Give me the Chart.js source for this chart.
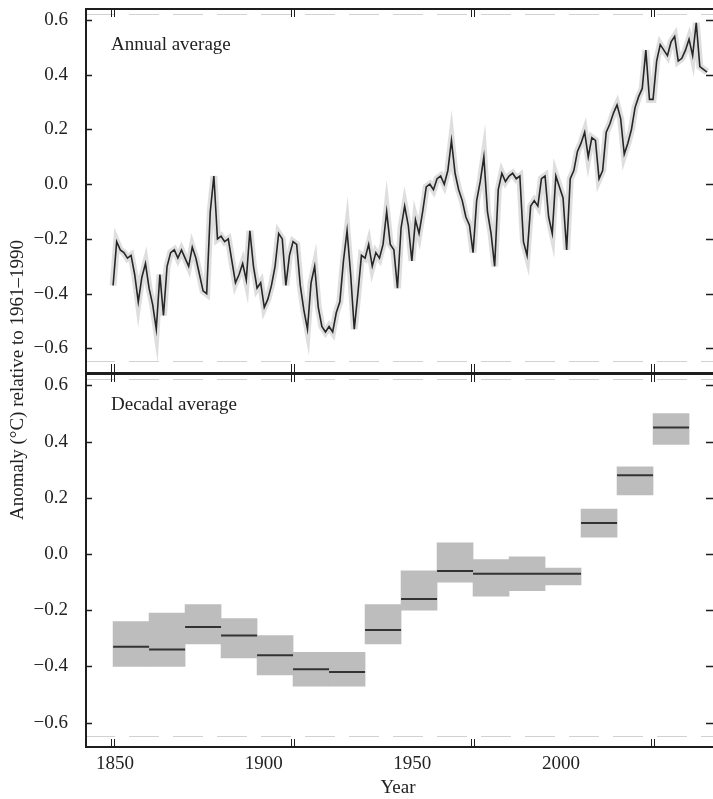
<!DOCTYPE html>
<html>
<head>
<meta charset="utf-8">
<script src="https://cdn.jsdelivr.net/npm/chart.js@4.4.1/dist/chart.umd.min.js"></script>
<style>
    body { margin: 0; background: #fff; }
    #wrap { position: relative; width: 713px; height: 799px; overflow: hidden;
            font-family: "Liberation Serif", "DejaVu Serif", serif; color: #222; }
    canvas { position: absolute; left: 0; }
    #top { top: 0; }
    #bottom { top: 373px; }
    .panel { position: absolute; left: 111px; font-size: 19px; line-height: 19px; white-space: nowrap; }
    #ytitle { position: absolute; left: -183px; top: 370px; width: 400px; height: 20px; line-height: 20px;
              font-size: 19px; text-align: center; white-space: nowrap; transform: rotate(-90deg); }
</style>
</head>
<body>
<div id="wrap">
    <canvas id="top" width="713" height="373"></canvas>
    <canvas id="bottom" width="713" height="426"></canvas>
    <div class="panel" style="top: 34px">Annual average</div>
    <div class="panel" style="top: 394px">Decadal average</div>
    <div id="ytitle">Anomaly (°C) relative to 1961–1990</div>
</div>
<script>
// annual anomalies, one per year from firstYear
const firstYear = 1850;
const annual = [
    -0.37, -0.21, -0.24, -0.25, -0.27, -0.26, -0.33, -0.43, -0.34, -0.29,
    -0.38, -0.44, -0.53, -0.33, -0.48, -0.30, -0.25, -0.24, -0.27, -0.24,
    -0.27, -0.30, -0.23, -0.27, -0.33, -0.39, -0.40, -0.10, 0.03, -0.20,
    -0.19, -0.21, -0.20, -0.28, -0.36, -0.33, -0.29, -0.35, -0.17, -0.30,
    -0.38, -0.36, -0.45, -0.42, -0.37, -0.30, -0.18, -0.20, -0.37, -0.26,
    -0.21, -0.22, -0.37, -0.46, -0.53, -0.36, -0.30, -0.45, -0.52, -0.54,
    -0.52, -0.54, -0.47, -0.43, -0.28, -0.17, -0.33, -0.53, -0.40, -0.26,
    -0.27, -0.22, -0.30, -0.25, -0.27, -0.22, -0.10, -0.22, -0.24, -0.38,
    -0.16, -0.08, -0.15, -0.28, -0.13, -0.18, -0.10, -0.01, 0.00, -0.02,
    0.02, 0.03, 0.00, 0.05, 0.16, 0.04, -0.02, -0.06, -0.12, -0.15,
    -0.25, -0.06, 0.01, 0.10, -0.10, -0.18, -0.30, -0.02, 0.04, 0.01,
    0.03, 0.04, 0.02, 0.03, -0.21, -0.26, -0.08, -0.06, -0.08, 0.02,
    0.03, -0.12, -0.18, 0.03, -0.01, -0.05, -0.24, 0.02, 0.05, 0.12,
    0.15, 0.19, 0.10, 0.17, 0.16, 0.02, 0.05, 0.19, 0.22, 0.26,
    0.29, 0.24, 0.11, 0.15, 0.20, 0.28, 0.32, 0.35, 0.49, 0.31,
    0.31, 0.45, 0.51, 0.49, 0.47, 0.52, 0.54, 0.45, 0.46, 0.49,
    0.53, 0.47, 0.59, 0.43, 0.42, 0.41,
];

const decades = [1850, 1860, 1870, 1880, 1890, 1900, 1910, 1920, 1930, 1940, 1950, 1960, 1970, 1980, 1990, 2000];
const decadeMean = [-0.33, -0.34, -0.26, -0.29, -0.36, -0.41, -0.42, -0.27, -0.16, -0.06, -0.07, -0.07, -0.07, 0.11, 0.28, 0.45];
const decadeLow  = [-0.40, -0.40, -0.32, -0.37, -0.43, -0.47, -0.47, -0.32, -0.20, -0.10, -0.15, -0.13, -0.11, 0.06, 0.21, 0.39];
const decadeHigh = [-0.24, -0.21, -0.18, -0.23, -0.29, -0.35, -0.35, -0.18, -0.06, 0.04, -0.02, -0.01, -0.05, 0.16, 0.31, 0.50];

const yTicks = [-0.6, -0.4, -0.2, 0, 0.2, 0.4, 0.6];
const yearTicks = [1850, 1900, 1950, 2000];
const labelYears = [1850, 1900, 1950, 2000];

Chart.defaults.font.family = '"Liberation Serif", "DejaVu Serif", serif';
Chart.defaults.color = '#222';
Chart.defaults.animation = false;

const fmt = v => (v < -0.001 ? '\u2212' : '') + Math.abs(v).toFixed(1);

const yAxis = () => ({
    min: -0.69,
    max: 0.644,
    grid: { display: false },
    border: { display: false },
    ticks: { padding: 9, font: { size: 19 }, callback: fmt },
    afterBuildTicks: s => { s.ticks = yTicks.map(v => ({ value: v })); },
    afterFit: s => { s.width = 85; s.paddingTop = 0; s.paddingBottom = 0; },
});

const xAxis = () => ({
    type: 'linear',
    min: 1842.2,
    max: 2016.1,
    offset: false,
    display: false,
    afterBuildTicks: s => { s.ticks = yearTicks.map(v => ({ value: v })); },
});

const framePlugin = {
    id: 'frame',
    afterDatasetsDraw(chart) {
        const { ctx, chartArea: a, scales } = chart;
        const xs = scales.x, ys = scales.y;
        const isTop = chart.canvas.id === 'top';
        ctx.save();

        // faint dashed rules near the frame
        ctx.strokeStyle = '#d2d2d2';
        ctx.lineWidth = 1;
        ctx.setLineDash([30, 14]);
        ctx.beginPath();
        ctx.moveTo(a.left, a.top + 6.5); ctx.lineTo(a.right + 2, a.top + 6.5);
        ctx.moveTo(a.left, a.bottom - 11.5); ctx.lineTo(a.right + 2, a.bottom - 11.5);
        ctx.stroke();
        ctx.setLineDash([]);

        ctx.strokeStyle = '#1e1e1e';
        ctx.lineWidth = 2;
        ctx.beginPath();
        ctx.moveTo(a.left, a.top + 1); ctx.lineTo(a.right + 2, a.top + 1);
        if (!isTop) { ctx.moveTo(a.left, a.bottom - 1); ctx.lineTo(a.right + 2, a.bottom - 1); }
        ctx.moveTo(a.left + 1, a.top); ctx.lineTo(a.left + 1, a.bottom);
        ctx.stroke();
        if (isTop) {
            ctx.lineWidth = 1;
            ctx.beginPath();
            ctx.moveTo(a.left, a.bottom - 0.5); ctx.lineTo(a.right + 2, a.bottom - 0.5);
            ctx.stroke();
        }

        ctx.lineWidth = 1.5;
        ctx.beginPath();
        yTicks.forEach(v => {
            const py = Math.round(ys.getPixelForValue(v)) + 0.5;
            ctx.moveTo(a.left, py); ctx.lineTo(a.left + 7, py);
            ctx.moveTo(a.right - 5, py); ctx.lineTo(a.right + 2, py);
        });
        ctx.stroke();

        ctx.lineWidth = 1;
        ctx.beginPath();
        yearTicks.forEach(v => {
            const px = Math.round(xs.getPixelForValue(v));
            [px - 1.5, px + 1.5].forEach(p => {
                ctx.moveTo(p, a.top); ctx.lineTo(p, a.top + 9);
                ctx.moveTo(p, a.bottom); ctx.lineTo(p, a.bottom - 9);
            });
        });
        ctx.stroke();

        ctx.restore();
    },
};

const annualPoints = annual.map((v, i) => ({ x: firstYear + i, y: v }));

new Chart('top', {
    type: 'line',
    data: {
        datasets: [{
            data: annualPoints,
            borderColor: '#262626',
            borderWidth: 1.6,
            pointRadius: 0,
            tension: 0,
            order: 1,
        }, {
            data: annualPoints,
            borderColor: 'rgba(0, 0, 0, 0.13)',
            borderWidth: 7,
            pointRadius: 0,
            tension: 0,
            order: 2,
        }],
    },
    options: {
        responsive: false,
        layout: { autoPadding: false, padding: { top: 8, right: 2, bottom: 0, left: 0 } },
        plugins: { legend: { display: false }, tooltip: { enabled: false } },
        scales: { x: xAxis(), y: yAxis() },
    },
    plugins: [framePlugin],
});

new Chart('bottom', {
    type: 'bar',
    data: {
        datasets: [{
            type: 'scatter',
            data: decades.map((d, i) => ({ x: d + 5, y: decadeMean[i] })),
            pointStyle: 'line',
            pointRadius: 18,
            pointBorderWidth: 2,
            pointBorderColor: '#333',
            xAxisID: 'x',
            yAxisID: 'y',
            order: 1,
        }, {
            data: decades.map((d, i) => ({ x: d + 5, y: [decadeLow[i], decadeHigh[i]] })),
            backgroundColor: '#bdbdbd',
            borderWidth: 0,
            barPercentage: 1,
            categoryPercentage: 1,
            grouped: false,
            xAxisID: 'x',
            yAxisID: 'y',
            order: 2,
        }],
    },
    options: {
        responsive: false,
        layout: { autoPadding: false, padding: { top: 0, right: 2, bottom: 0, left: 0 } },
        plugins: { legend: { display: false }, tooltip: { enabled: false } },
        scales: {
            x: xAxis(),
            xl: {
                type: 'linear',
                position: 'bottom',
                min: 1839.9,
                max: 2050.45,
                offset: false,
                grid: { display: false, offset: false },
                border: { display: false },
                ticks: { padding: -3, font: { size: 19 }, maxRotation: 0, autoSkip: false, callback: v => String(v) },
                title: { display: true, text: 'Year', font: { size: 19 }, padding: { top: 0, bottom: 0 } },
                afterBuildTicks: s => { s.ticks = labelYears.map(v => ({ value: v })); },
                afterFit: s => { s.height = 51; s.paddingLeft = 0; s.paddingRight = 0; },
            },
            y: yAxis(),
        },
    },
    plugins: [framePlugin],
});
</script>
</body>
</html>
